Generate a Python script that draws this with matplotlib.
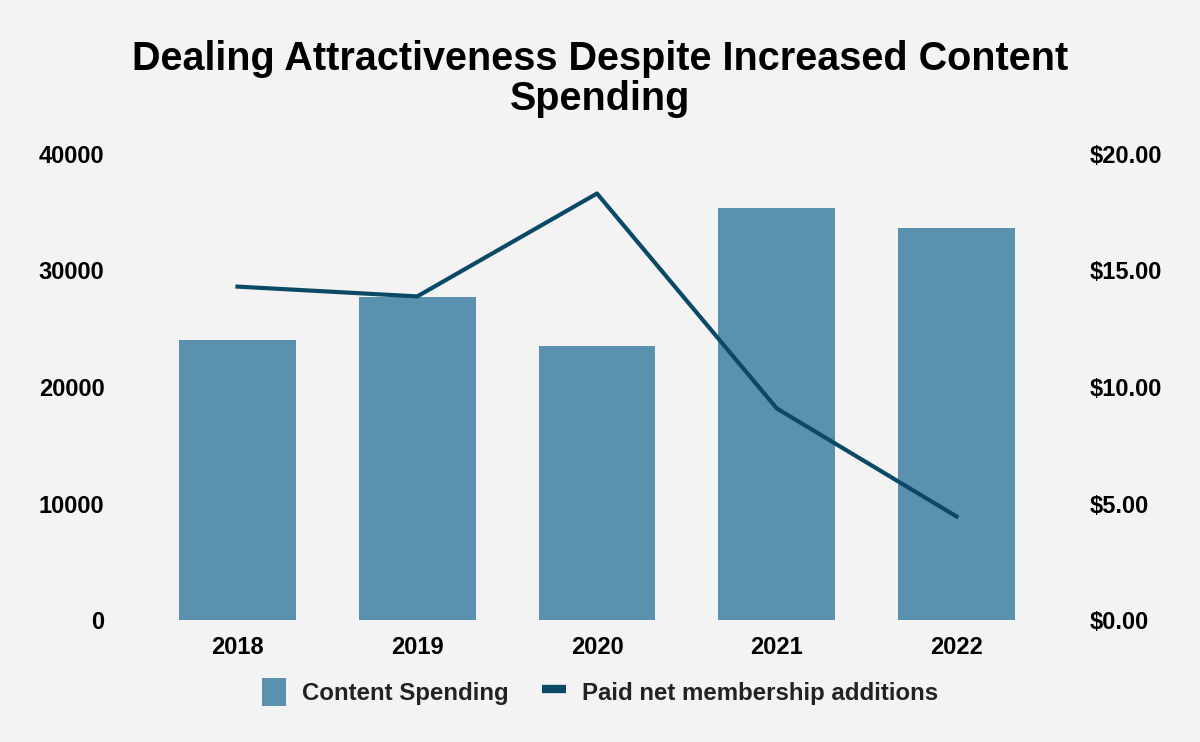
import matplotlib.pyplot as plt
from matplotlib.lines import Line2D
from matplotlib.patches import Patch
from matplotlib.ticker import FuncFormatter

plt.rcParams['font.family'] = ['Liberation Sans', 'DejaVu Sans']

years = ["2018", "2019", "2020", "2021", "2022"]
content_spending = [24000, 27750, 23500, 35300, 33600]
paid_net_adds = [14.30, 13.88, 18.29, 9.08, 4.45]

bg = '#f3f3f3'
bar_color = '#5a91af'
line_color = '#0b4a66'

fig = plt.figure(figsize=(12, 7.42), dpi=100, facecolor=bg)
ax = fig.add_axes([0.123, 0.164, 0.749, 0.629])
ax.set_facecolor(bg)

x = range(len(years))
ax.bar(x, content_spending, width=0.65, color=bar_color, zorder=2)
ax.set_xlim(-0.5, 4.5)
ax.set_ylim(0, 40000)
ax.set_yticks([0, 10000, 20000, 30000, 40000])
ax.set_xticks(list(x))
ax.set_xticklabels(years)

ax2 = ax.twinx()
ax2.plot(x, paid_net_adds, color=line_color, linewidth=3, zorder=3)
ax2.set_ylim(0, 20)
ax2.set_yticks([0, 5, 10, 15, 20])
ax2.yaxis.set_major_formatter(FuncFormatter(lambda v, p: f"${v:.2f}"))

for a in (ax, ax2):
    for s in a.spines.values():
        s.set_visible(False)
    a.tick_params(length=0, labelsize=17)
    for lab in a.get_xticklabels() + a.get_yticklabels():
        lab.set_fontweight('bold')
ax.tick_params(axis='y', pad=31)
ax.tick_params(axis='x', pad=11)
ax2.tick_params(axis='y', pad=31)

fig.text(0.5, 1 - 40 / 742, "Dealing Attractiveness Despite Increased Content\nSpending",
         ha='center', va='top', fontsize=28.5, fontweight='bold', linespacing=1.06)

handles = [Patch(facecolor=bar_color, label='Content Spending'),
           Line2D([0], [0], color=line_color, linewidth=6, solid_capstyle='butt',
                  label='Paid net membership additions')]
fig.legend(handles=handles, loc='center', bbox_to_anchor=(0.5, 0.067), ncol=2,
           frameon=False, prop={'size': 17.3, 'weight': 'bold'}, handlelength=1.0,
           handleheight=1.4, handletextpad=0.65, columnspacing=1.4, labelcolor='#222222')

fig.savefig('out.png', dpi=100, facecolor=bg)
